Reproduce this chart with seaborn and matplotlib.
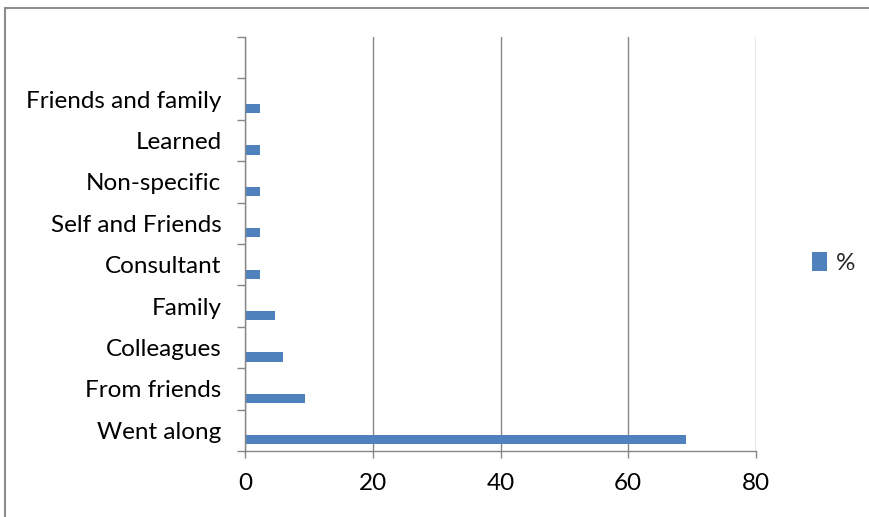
import matplotlib
matplotlib.use("Agg")
import matplotlib.pyplot as plt
import seaborn as sns
import numpy as np
import pandas as pd
from matplotlib.transforms import ScaledTranslation
from matplotlib.lines import Line2D
from matplotlib.ticker import FixedLocator

categories = ["", "Friends and family", "Learned", "Non-specific", "Self and Friends",
              "Consultant", "Family", "Colleagues", "From friends", "Went along"]
values = [np.nan, 2.3, 2.3, 2.3, 2.3, 2.3, 4.7, 5.9, 9.4, 69.1]
x_ticks = [0, 20, 40, 60, 80]
series_label = "%"

sns.set_theme(style="white")
plt.rcParams['font.family'] = ['Lato', 'DejaVu Sans']
FS = 17.5
GRAY = "#868686"

fig = plt.figure(figsize=(8.69, 5.17), dpi=100)
ax = fig.add_axes([245/869, 1-451/517, (756-245)/869, (451-37)/517])

df = pd.DataFrame({"source": categories, "pct": values})
sns.barplot(data=df, x="pct", y="source", order=categories, orient="h",
            color="#4F81BD", width=0.22, ax=ax, label=series_label,
            saturation=1, linewidth=0)

offset = ScaledTranslation(0, -9.5/100, fig.dpi_scale_trans)
for p in ax.patches:
    p.set_transform(ax.transData + offset)

ax.set_xlim(0, 80)
ax.set_xticks(x_ticks)
ax.set_ylim(len(categories) - 0.5, -0.5)
ax.grid(axis='x', color=GRAY, lw=1)
ax.grid(axis='y', visible=False)
ax.set_axisbelow(True)
for s in ["top", "right"]:
    ax.spines[s].set_visible(False)
for s in ["left", "bottom"]:
    ax.spines[s].set_color(GRAY)
    ax.spines[s].set_linewidth(1)

ax.yaxis.set_minor_locator(FixedLocator(np.arange(-0.5, len(categories), 1)))
ax.tick_params(axis='y', which='major', length=0, pad=17, labelsize=FS, labelcolor='black', left=True)
ax.tick_params(axis='y', which='minor', length=6, width=1, color=GRAY, direction='out', left=True)
ax.tick_params(axis='x', which='major', length=5, width=1, color=GRAY, direction='out',
               bottom=True, pad=11, labelsize=FS, labelcolor='black')
ax.set_xlabel("")
ax.set_ylabel("")

ax.legend(loc='center left', bbox_to_anchor=(812/869, 1-263/517), bbox_transform=fig.transFigure,
          frameon=False, borderpad=0, borderaxespad=0, handlelength=0.6, handleheight=0.85,
          handletextpad=0.4, fontsize=FS)

fig.add_artist(Line2D([5/869, 5/869], [0, 1-8/517], transform=fig.transFigure, color='#8c8c8c', lw=1.5))
fig.add_artist(Line2D([5/869, 1], [1-8/517, 1-8/517], transform=fig.transFigure, color='#8c8c8c', lw=1.5))

fig.savefig("out.png", dpi=100)
